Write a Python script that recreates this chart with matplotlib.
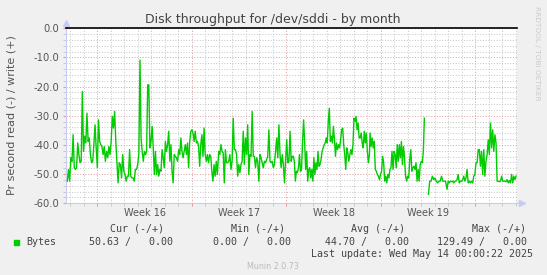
import matplotlib
matplotlib.use('Agg')
import matplotlib.pyplot as plt
import numpy as np

# read throughput (bytes/s, plotted negative), split in chunks
chunk_a = [-52.4, -48.4, -52.4, -44.4, -45.6, -36.5, -47.8, -48.4, -47.8, -39.3, -43.3, -46.1, -45.6, -21.7,
           -42.2, -37.0, -39.3, -29.1, -38.8, -37.6, -43.3, -46.1, -45.6, -39.9, -33.1, -41.0, -47.8, -31.4,
           -38.8, -39.9, -40.5, -43.3, -40.5, -45.6, -42.2, -44.4, -40.5, -43.3, -38.8, -30.2, -34.2, -28.5,
           -38.8, -46.1, -53.0, -46.1, -46.7, -51.3, -43.3, -49.0, -50.1, -52.4, -50.7, -50.7, -41.6, -50.7,
           -51.3, -51.3, -52.4, -48.4, -48.4, -46.7, -43.3, -10.9]
chunk_b = [-37.6, -42.2, -45.6, -42.2, -43.3, -42.2, -19.4, -19.4, -41.0, -38.8, -33.6, -41.0, -50.1, -42.2,
           -50.1, -46.7, -50.7, -48.4, -49.0, -41.6, -44.4, -47.8, -38.8, -42.2, -39.9, -35.3, -45.6, -39.9,
           -49.0, -53.0, -43.3, -43.9, -44.4, -45.6, -41.6, -43.3, -37.6, -42.2, -44.4, -42.2, -39.9, -43.3,
           -39.3, -47.8, -38.8, -35.3, -34.8, -35.9, -38.8, -35.3, -39.3, -38.8, -40.5, -47.3, -39.9, -36.5,
           -43.9, -34.2, -43.3, -45.6, -43.3, -46.1, -43.3, -43.9, -49.0, -52.4, -46.7, -50.7, -45.6, -50.1]
chunk_c = [-42.2, -43.3, -39.9, -42.2, -42.7, -53.0, -41.6, -46.1, -46.1, -45.6, -43.3, -48.4, -45.6, -30.8,
           -41.6, -41.6, -43.3, -50.7, -46.7, -49.5, -46.7, -45.6, -35.3, -46.7, -37.6, -43.3, -33.1, -50.1,
           -43.3, -43.9, -28.5, -43.9, -43.9, -47.8, -44.4, -45.6, -52.4, -43.3, -44.4, -46.1, -47.8, -45.6,
           -46.1, -45.0, -43.9, -34.8, -45.6, -46.1, -45.6, -47.8, -46.7, -42.2, -37.6, -44.4, -33.1, -43.3,
           -47.8, -43.3, -46.7, -53.0, -45.6, -38.2, -46.1, -45.6, -35.3, -45.6, -43.9, -43.9]
chunk_d = [-45.6, -52.4, -49.0, -49.5, -47.8, -43.3, -49.0, -48.4, -38.8, -31.4, -38.8, -48.4, -42.2, -52.4,
           -48.4, -47.8, -51.3, -48.4, -52.4, -44.4, -50.1, -46.1, -48.4, -42.2, -47.3, -46.7, -45.0, -42.2,
           -41.0, -39.9, -39.3, -37.6, -39.3, -31.9, -27.4, -38.8, -37.0, -39.3, -33.6, -38.2, -43.9, -39.3,
           -41.6, -39.9, -41.0, -38.2, -34.8, -34.2, -39.9, -43.3, -48.4, -41.0, -42.7, -45.6, -43.3, -41.6,
           -43.3, -39.9, -30.8, -31.9, -30.2, -34.8, -32.5, -37.6, -37.6, -35.9, -39.3, -41.0, -35.3, -39.3,
           -35.9, -42.2, -46.1, -43.3]
chunk_e = [-35.9, -40.5, -37.6, -41.0, -38.8, -48.4, -49.0, -50.1, -50.7, -51.9, -50.1, -49.0, -43.9, -46.1,
           -52.4, -50.7, -53.0, -50.1, -51.3, -48.4, -47.8, -42.2, -48.4, -42.2, -43.3, -47.8, -39.9, -45.6,
           -39.9, -44.4, -38.8, -46.7, -40.5, -44.4, -50.7, -52.4, -50.7, -51.3, -45.0, -41.6, -49.0, -47.8,
           -47.3, -48.4, -46.1, -52.4, -48.4, -52.4, -46.7, -45.6, -46.1, -42.2, -30.8]
chunk_f = [-56.9, -52.4, -52.4, -50.7, -51.9, -51.3, -52.4, -53.0, -52.4, -52.4, -50.7, -52.4, -52.4, -52.4]
chunk_g = [-55.2, -52.4, -53.0, -52.4, -52.6, -52.4, -53.0, -52.4, -52.4, -51.9, -50.1, -53.0, -52.4, -52.4,
           -51.9, -50.7, -52.4, -51.3, -48.4, -53.0, -52.4, -53.0, -52.4, -53.0, -50.7, -50.1, -46.1, -46.1,
           -41.6, -41.6, -47.3, -42.2, -50.1, -41.6, -50.7, -45.6, -43.3, -38.2, -43.3, -32.5, -41.0, -34.8,
           -42.2, -36.5, -39.3, -52.4, -52.4, -52.6, -52.4, -50.7, -52.4, -52.4, -52.4, -52.6, -51.9, -53.0,
           -52.2, -53.0, -50.1, -53.0, -50.7, -51.9, -50.7]

# time span (days from left edge of graph) covered by each chunk
chunk_spans = [(0.10, 5.48), (5.56, 11.21), (11.31, 16.84), (16.91, 22.47),
               (22.52, 26.54), (26.84, 28.10), (28.22, 33.33)]
chunks = [chunk_a, chunk_b, chunk_c, chunk_d, chunk_e, chunk_f, chunk_g]
gap_after = 4  # no data between chunk e and f

x_span = 33.4
week_starts = [2.32, 9.32, 16.32, 23.32, 30.32]
week_labels = ['Week 16', 'Week 17', 'Week 18', 'Week 19']

legend_heads = ['Cur (-/+)', 'Min (-/+)', 'Avg (-/+)', 'Max (-/+)']
legend_vals = ['50.63 /   0.00', '0.00 /   0.00', '44.70 /   0.00', '129.49 /   0.00']

W, H = 547, 275
fig = plt.figure(figsize=(W / 100, H / 100), dpi=100, facecolor='#f0f0f0')

def fx(x):
    return x / W

def fy(y):
    return 1 - y / H

ax = fig.add_axes([fx(66), fy(203.3), fx(517) - fx(66), fy(28.3) - fy(203.3)])
ax.set_facecolor('white')

xs, ys = [], []
for i, (vals, (t0, t1)) in enumerate(zip(chunks, chunk_spans)):
    xs.extend(np.linspace(t0, t1, len(vals)))
    ys.extend(vals)
    if i == gap_after:
        xs.append((t1 + chunk_spans[i + 1][0]) / 2)
        ys.append(np.nan)

ax.plot(xs, ys, color='#00cc00', lw=1.0, zorder=3)
ax.axhline(0, color='black', lw=1.2, zorder=4, clip_on=False)

ax.set_xlim(0, x_span)
ax.set_ylim(-60, 0)

ax.set_xticks(week_starts)
ax.set_xticklabels([])
day_ticks = [d for d in np.arange(week_starts[0] - 2, x_span, 1.0) if d > 0]
ax.set_xticks(day_ticks, minor=True)
ax.set_yticks(np.arange(-60, 1, 10))
ax.set_yticklabels(['%.1f' % v for v in np.arange(-60, 1, 10)])
ax.set_yticks(np.arange(-58, 0, 2), minor=True)

red = '#e09a9a'
grey = '#c4c4c4'
ax.grid(which='major', color=red, linestyle=(0, (1, 1.8)), lw=0.7, zorder=1)
ax.grid(which='minor', color=grey, linestyle=(0, (1, 1.8)), lw=0.7, zorder=1)
ax.tick_params(which='major', length=2, color=red, labelsize=7.2, labelcolor='#555555', pad=3)
ax.tick_params(which='minor', length=2, color=grey)

for s in ['top', 'right']:
    ax.spines[s].set_visible(False)
axis_col = '#c8ccf4'
ax.spines['left'].set_color(axis_col)
ax.spines['bottom'].set_color(axis_col)
ax.spines['left'].set_bounds(-60, 0)
ax.plot([0, 0], [1.0, 1.02], color=axis_col, lw=1, transform=ax.transAxes, clip_on=False)
ax.plot([1.0, 1.01], [0, 0], color=axis_col, lw=1, transform=ax.transAxes, clip_on=False)
ax.plot(0, 1.03, marker='^', ms=4, color=axis_col, transform=ax.transAxes, clip_on=False)
ax.plot(1.012, 0, marker='>', ms=4, color=axis_col, transform=ax.transAxes, clip_on=False)

for ws, lab in zip(week_starts, week_labels):
    ax.text(ws + 3.5, -0.055, lab, transform=ax.get_xaxis_transform(), ha='center', va='center',
            fontsize=7, color='#555555')

fig.text(fx(273), fy(19), 'Disk throughput for /dev/sddi - by month', ha='center', va='center',
         fontsize=9, color='#444444')
fig.text(fx(12), fy(115), 'Pr second read (-) / write (+)', rotation=90, ha='center', va='center',
         fontsize=8, color='#555555')
fig.text(fx(537.5), fy(53), 'RRDTOOL / TOBI OETIKER', rotation=270, ha='center', va='center',
         fontsize=5.3, color='#cccccc')

mono = dict(family='DejaVu Sans Mono', fontsize=7.2, color='#444444', va='center')
for x_right, txt in zip([164, 285, 404.7, 526.2], legend_heads):
    fig.text(fx(x_right), fy(228.6), txt, ha='right', **mono)
for x_right, txt in zip([173.4, 291.3, 409, 527], legend_vals):
    fig.text(fx(x_right), fy(241.9), txt, ha='right', **mono)
fig.text(fx(26.2), fy(241.9), 'Bytes', ha='left', **mono)
fig.patches.append(plt.Rectangle((fx(14), fy(244.5)), fx(5), fy(239.5) - fy(244.5),
                                 transform=fig.transFigure, color='#00cc00', figure=fig))
fig.text(fx(532.8), fy(254), 'Last update: Wed May 14 00:00:22 2025', ha='right', **mono)
fig.text(fx(273), fy(266.3), 'Munin 2.0.73', ha='center', va='center', fontsize=5.8, color='#bbbbbb')

fig.savefig('out.png', dpi=100, facecolor=fig.get_facecolor())
